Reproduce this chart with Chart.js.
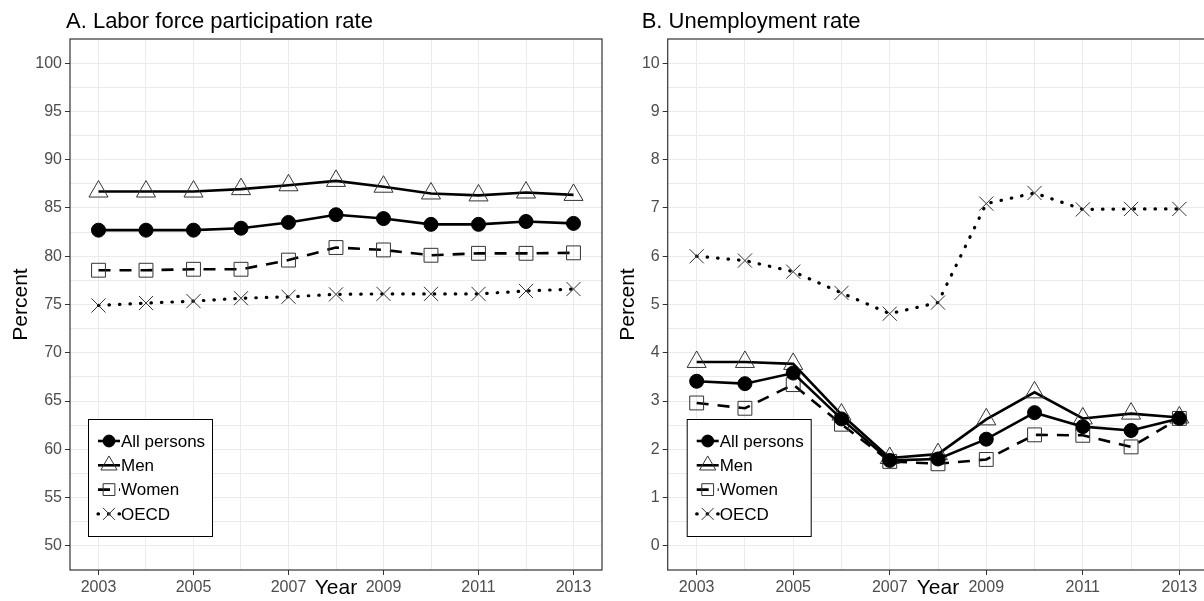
<!DOCTYPE html>
<html>
<head>
<meta charset="utf-8">
<script src="https://cdn.jsdelivr.net/npm/chart.js@4.4.1/dist/chart.umd.min.js"></script>
<style>
  html, body { margin: 0; padding: 0; background: #fff; overflow: hidden; width: 1204px; height: 601px; }
  .panel { position: absolute; top: 0; }
  #boxA { left: 0; }
  #boxB { left: 604px; }
</style>
</head>
<body>
<div id="boxA" class="panel"><canvas id="chartA" width="615" height="601"></canvas></div>
<div id="boxB" class="panel"><canvas id="chartB" width="630" height="601"></canvas></div>
<script>
// data
const years = [2003, 2004, 2005, 2006, 2007, 2008, 2009, 2010, 2011, 2012, 2013];
const seriesNames = ['All persons', 'Men', 'Women', 'OECD'];

// A. labour force participation rate (%)
const lfpAll   = [82.7, 82.7, 82.7, 82.9, 83.5, 84.3, 83.9, 83.3, 83.3, 83.6, 83.4];
const lfpMen   = [86.7, 86.7, 86.7, 86.95, 87.35, 87.8, 87.2, 86.5, 86.3, 86.6, 86.35];
const lfpWomen = [78.55, 78.55, 78.65, 78.65, 79.6, 80.9, 80.65, 80.1, 80.3, 80.3, 80.35];
const lfpOecd  = [74.9, 75.15, 75.35, 75.65, 75.8, 76.05, 76.1, 76.1, 76.1, 76.4, 76.6];

// B. unemployment rate (%)
const unAll   = [3.41, 3.36, 3.58, 2.63, 1.77, 1.8, 2.21, 2.76, 2.47, 2.39, 2.64];
const unMen   = [3.81, 3.81, 3.77, 2.72, 1.82, 1.9, 2.62, 3.18, 2.64, 2.74, 2.66];
const unWomen = [2.96, 2.85, 3.34, 2.52, 1.75, 1.7, 1.79, 2.3, 2.29, 2.05, 2.64];
const unOecd  = [6.0, 5.91, 5.68, 5.24, 4.81, 5.04, 7.09, 7.31, 6.97, 6.98, 6.98];

// tick labels
const yearLabels = [2003, 2005, 2007, 2009, 2011, 2013];
const lfpLabels = [50, 55, 60, 65, 70, 75, 80, 85, 90, 95, 100];
const unLabels = [0, 1, 2, 3, 4, 5, 6, 7, 8, 9, 10];

const FONT = '"Liberation Sans", Arial, sans-serif';

const styles = [
  { borderColor: '#000', borderWidth: 2.6, borderDash: [], pointStyle: 'circle', pointRadius: 7,
    pointBackgroundColor: '#000', pointBorderColor: '#000', pointBorderWidth: 1 },
  { borderColor: '#000', borderWidth: 2.6, borderDash: [], pointStyle: 'triangle', pointRadius: 11,
    pointBackgroundColor: 'rgba(0,0,0,0)', pointBorderColor: '#333', pointBorderWidth: 1 },
  { borderColor: '#000', borderWidth: 2.6, borderDash: [12, 9], pointStyle: 'rect', pointRadius: 9.8,
    pointBackgroundColor: 'rgba(0,0,0,0)', pointBorderColor: '#333', pointBorderWidth: 1 },
  { borderColor: '#000', borderWidth: 3.2, borderDash: [0.5, 10], borderCapStyle: 'round', pointStyle: 'crossRot', pointRadius: 10,
    pointBackgroundColor: 'rgba(0,0,0,0)', pointBorderColor: '#333', pointBorderWidth: 1 }
];

function makeDatasets(list) {
  return list.map((vals, i) => Object.assign({
    label: seriesNames[i],
    data: vals.map((v, j) => ({ x: years[j], y: v })),
    tension: 0,
    fill: false
  }, styles[i]));
}

// grid every half step, labels only on the whole steps
function halfSteps(labels) {
  const step = labels[1] - labels[0];
  const out = [];
  for (let i = 0; i < labels.length; i++) {
    out.push(labels[i]);
    if (i < labels.length - 1) out.push(labels[i] + step / 2);
  }
  return out;
}

const panelPlugin = {
  id: 'panelExtras',
  afterDraw(chart) {
    const { ctx, chartArea } = chart;
    const o = chart.options.plugins.panelExtras;
    ctx.save();
    // panel border
    ctx.strokeStyle = '#333';
    ctx.lineWidth = 1.2;
    ctx.strokeRect(chartArea.left, chartArea.top, chartArea.right - chartArea.left, chartArea.bottom - chartArea.top);

    // legend box
    const x0 = chartArea.left + o.legendDx, w = 124, h = 117;
    const y0 = 419;
    ctx.fillStyle = '#fff';
    ctx.fillRect(x0, y0, w, h);
    ctx.strokeStyle = '#000';
    ctx.lineWidth = 1;
    ctx.strokeRect(x0 + 0.5, y0 + 0.5, w, h);
    chart.data.datasets.forEach((ds, i) => {
      const cy = y0 + 22 + i * 24.3;
      const kx = x0 + 21;
      ctx.beginPath();
      ctx.setLineDash(ds.borderDash || []);
      ctx.lineCap = ds.borderCapStyle || 'butt';
      ctx.strokeStyle = ds.borderColor;
      ctx.lineWidth = ds.borderWidth;
      ctx.moveTo(kx - 11, cy);
      ctx.lineTo(kx + 11, cy);
      ctx.stroke();
      ctx.setLineDash([]);
      ctx.lineCap = 'butt';
      ctx.fillStyle = ds.pointBackgroundColor;
      ctx.strokeStyle = ds.pointBorderColor;
      ctx.lineWidth = ds.pointBorderWidth;
      Chart.helpers.drawPoint(ctx, { pointStyle: ds.pointStyle, radius: ds.pointRadius * 0.85,
        borderWidth: ds.pointBorderWidth, rotation: 0 }, kx, cy);
      ctx.fillStyle = '#000';
      ctx.font = '17px ' + FONT;
      ctx.textBaseline = 'middle';
      ctx.textAlign = 'left';
      ctx.fillText(ds.label, kx + 12, cy + 1);
    });

    // panel title
    ctx.fillStyle = '#000';
    ctx.font = '22px ' + FONT;
    ctx.textBaseline = 'alphabetic';
    ctx.textAlign = 'left';
    ctx.fillText(o.title, chartArea.left + o.titleDx, 28);
    ctx.restore();
  }
};

function makeChart(id, lists, cfg) {
  const yGrid = halfSteps(cfg.yLabels);
  return new Chart(document.getElementById(id), {
    type: 'line',
    data: { datasets: makeDatasets(lists) },
    plugins: [panelPlugin],
    options: {
      responsive: false,
      animation: false,
      layout: { padding: { left: cfg.padLeft, right: cfg.padRight, top: 39, bottom: 0 } },
      plugins: {
        legend: { display: false },
        tooltip: { enabled: false },
        panelExtras: { title: cfg.title, titleDx: cfg.titleDx, legendDx: cfg.legendDx }
      },
      scales: {
        x: {
          type: 'linear',
          min: 2002.4,
          max: 2013.6,
          afterBuildTicks: s => { s.ticks = years.map(v => ({ value: v })); },
          afterFit: s => { s.height = 31; },
          ticks: {
            autoSkip: false, maxRotation: 0, padding: 3, color: '#4d4d4d',
            font: { family: FONT, size: 16 },
            callback: v => yearLabels.includes(v) ? String(v) : ''
          },
          grid: {
            color: '#ebebeb', lineWidth: 1, tickLength: 5,
            tickColor: c => yearLabels.includes(c.tick.value) ? '#333' : 'rgba(0,0,0,0)'
          },
          border: { display: false },
          title: { display: true, text: 'Year', color: '#000', padding: { top: 0, bottom: 0 },
            font: { family: FONT, size: 21 } }
        },
        y: {
          type: 'linear',
          min: cfg.yMin,
          max: cfg.yMax,
          afterBuildTicks: s => { s.ticks = yGrid.map(v => ({ value: v })); },
          afterFit: s => { s.width = cfg.axisWidth; },
          ticks: {
            autoSkip: false, padding: 3, color: '#4d4d4d',
            font: { family: FONT, size: 16 },
            callback: v => cfg.yLabels.includes(v) ? String(v) : ''
          },
          grid: {
            color: '#ebebeb', lineWidth: 1, tickLength: 5,
            tickColor: c => cfg.yLabels.includes(c.tick.value) ? '#333' : 'rgba(0,0,0,0)'
          },
          border: { display: false },
          title: { display: true, text: 'Percent', color: '#000', padding: { top: 0, bottom: 0 },
            font: { family: FONT, size: 21 } }
        }
      }
    }
  });
}

makeChart('chartA', [lfpAll, lfpMen, lfpWomen, lfpOecd], {
  title: 'A. Labor force participation rate', titleDx: -4, legendDx: 18,
  yLabels: lfpLabels, yMin: 47.5, yMax: 102.5,
  padLeft: 9, axisWidth: 61, padRight: 13
});

makeChart('chartB', [unAll, unMen, unWomen, unOecd], {
  title: 'B. Unemployment rate', titleDx: -26, legendDx: 19,
  yLabels: unLabels, yMin: -0.5, yMax: 10.5,
  padLeft: 12, axisWidth: 51.7, padRight: 25.7
});
</script>
</body>
</html>
